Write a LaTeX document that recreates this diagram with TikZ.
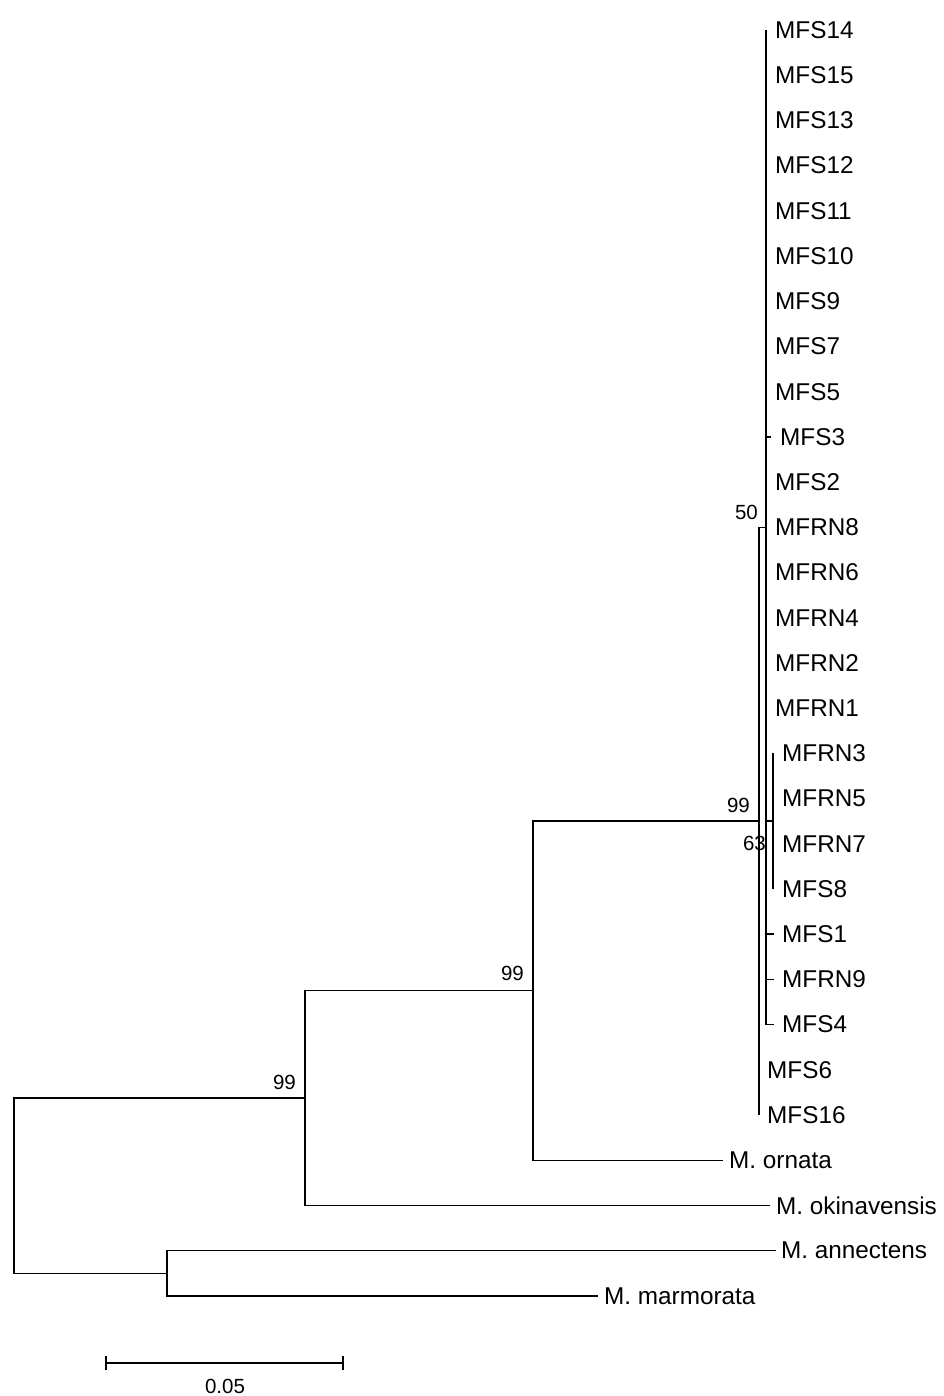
\documentclass[tikz,border=0pt]{standalone}
\usepackage{fontspec}
\setmainfont{Liberation Sans}
\begin{document}
\begin{tikzpicture}[x=1pt,y=-1pt,
  br/.style={line width=1.5pt, black},
  leaf/.style={anchor=west, inner sep=0pt, font=\fontsize{24.3}{26}\selectfont},
  boot/.style={anchor=east, inner sep=0pt, font=\fontsize{20.5}{22}\selectfont}]
\useasboundingbox (0,0) rectangle (943,1396);
% internal nodes
\coordinate (root) at (14,1185.7);
\coordinate (nlow) at (167,1273.3);
\coordinate (n1) at (305,1098.1);
\coordinate (n2) at (533,990.7);
\coordinate (n3) at (759,821.2);
\coordinate (n50) at (766,527.3);
\coordinate (n63) at (773,821.2);
% leaf tips
\coordinate (tMFS14) at (766,30);
\coordinate (tMFS15) at (766,75.2);
\coordinate (tMFS13) at (766,120.4);
\coordinate (tMFS12) at (766,165.6);
\coordinate (tMFS11) at (766,210.8);
\coordinate (tMFS10) at (766,256.1);
\coordinate (tMFS9) at (766,301.3);
\coordinate (tMFS7) at (766,346.5);
\coordinate (tMFS5) at (766,391.7);
\coordinate (tMFS3) at (771,436.9);
\coordinate (tMFS2) at (766,482.1);
\coordinate (tMFRN8) at (766,527.3);
\coordinate (tMFRN6) at (766,572.5);
\coordinate (tMFRN4) at (766,617.7);
\coordinate (tMFRN2) at (766,662.9);
\coordinate (tMFRN1) at (766,708.2);
\coordinate (tMFRN3) at (773,753.4);
\coordinate (tMFRN5) at (773,798.6);
\coordinate (tMFRN7) at (773,843.8);
\coordinate (tMFS8) at (773,889.0);
\coordinate (tMFS1) at (774,934.2);
\coordinate (tMFRN9) at (774,979.4);
\coordinate (tMFS4) at (774,1024.6);
\coordinate (tMFS6) at (759,1069.8);
\coordinate (tMFS16) at (759,1115.0);
\coordinate (tornata) at (723,1160.3);
\coordinate (tokin) at (770,1205.5);
\coordinate (tannec) at (776,1250.7);
\coordinate (tmarm) at (598,1295.9);
% labels
\node[leaf] (MFS14) at (775,30) {MFS14};
\node[leaf] (MFS15) at (775,75.2) {MFS15};
\node[leaf] (MFS13) at (775,120.4) {MFS13};
\node[leaf] (MFS12) at (775,165.6) {MFS12};
\node[leaf] (MFS11) at (775,210.8) {MFS11};
\node[leaf] (MFS10) at (775,256.1) {MFS10};
\node[leaf] (MFS9) at (775,301.3) {MFS9};
\node[leaf] (MFS7) at (775,346.5) {MFS7};
\node[leaf] (MFS5) at (775,391.7) {MFS5};
\node[leaf] (MFS3) at (780,436.9) {MFS3};
\node[leaf] (MFS2) at (775,482.1) {MFS2};
\node[leaf] (MFRN8) at (775,527.3) {MFRN8};
\node[leaf] (MFRN6) at (775,572.5) {MFRN6};
\node[leaf] (MFRN4) at (775,617.7) {MFRN4};
\node[leaf] (MFRN2) at (775,662.9) {MFRN2};
\node[leaf] (MFRN1) at (775,708.2) {MFRN1};
\node[leaf] (MFRN3) at (782,753.4) {MFRN3};
\node[leaf] (MFRN5) at (782,798.6) {MFRN5};
\node[leaf] (MFRN7) at (782,843.8) {MFRN7};
\node[leaf] (MFS8) at (782,889.0) {MFS8};
\node[leaf] (MFS1) at (782,934.2) {MFS1};
\node[leaf] (MFRN9) at (782,979.4) {MFRN9};
\node[leaf] (MFS4) at (782,1024.6) {MFS4};
\node[leaf] (MFS6) at (767,1069.8) {MFS6};
\node[leaf] (MFS16) at (767,1115.0) {MFS16};
\node[leaf] (ornata) at (729,1160.3) {M. ornata};
\node[leaf] (okin) at (776,1205.5) {M. okinavensis};
\node[leaf] (annec) at (781,1250.7) {M. annectens};
\node[leaf] (marm) at (604,1295.9) {M. marmorata};
% bootstrap values
\node[boot] (b99a) at (750,805) {99};
\node[boot] (b99b) at (524,973) {99};
\node[boot] (b99c) at (296,1082) {99};
\node[boot] (b50) at (758,512) {50};
\node[boot] (b63) at (766,843) {63};
% branches
\draw[br] (root) |- (n1);
\draw[br] (root) |- (nlow);
\draw[br] (nlow) |- (tannec);
\draw[br] (nlow) |- (tmarm);
\draw[br] (n1) |- (n2);
\draw[br] (n1) |- (tokin);
\draw[br] (n2) |- (n3);
\draw[br] (n2) |- (tornata);
\draw[br] (n3) |- (n50);
\draw[br] (n3) |- (tMFS6);
\draw[br] (n3) |- (tMFS16);
\draw[br] (n50) |- (tMFS14);
\draw[br] (n50) |- (tMFS3);
\draw[br] (n50) |- (n63);
\draw[br] (n50) |- (tMFS1);
\draw[br] (n50) |- (tMFRN9);
\draw[br] (n50) |- (tMFS4);
\draw[br] (n63) |- (tMFRN3);
\draw[br] (n63) |- (tMFS8);
% scale bar
\coordinate (sa) at (106,1363);
\coordinate (sb) at (343,1363);
\draw[br] (sa) -- (sb);
\draw[br] ([yshift=-7pt]sa) -- ([yshift=7pt]sa);
\draw[br] ([yshift=-7pt]sb) -- ([yshift=7pt]sb);
\node[inner sep=0pt, font=\fontsize{20.5}{22}\selectfont] (scale) at (225,1386) {0.05};
\end{tikzpicture}
\end{document}
